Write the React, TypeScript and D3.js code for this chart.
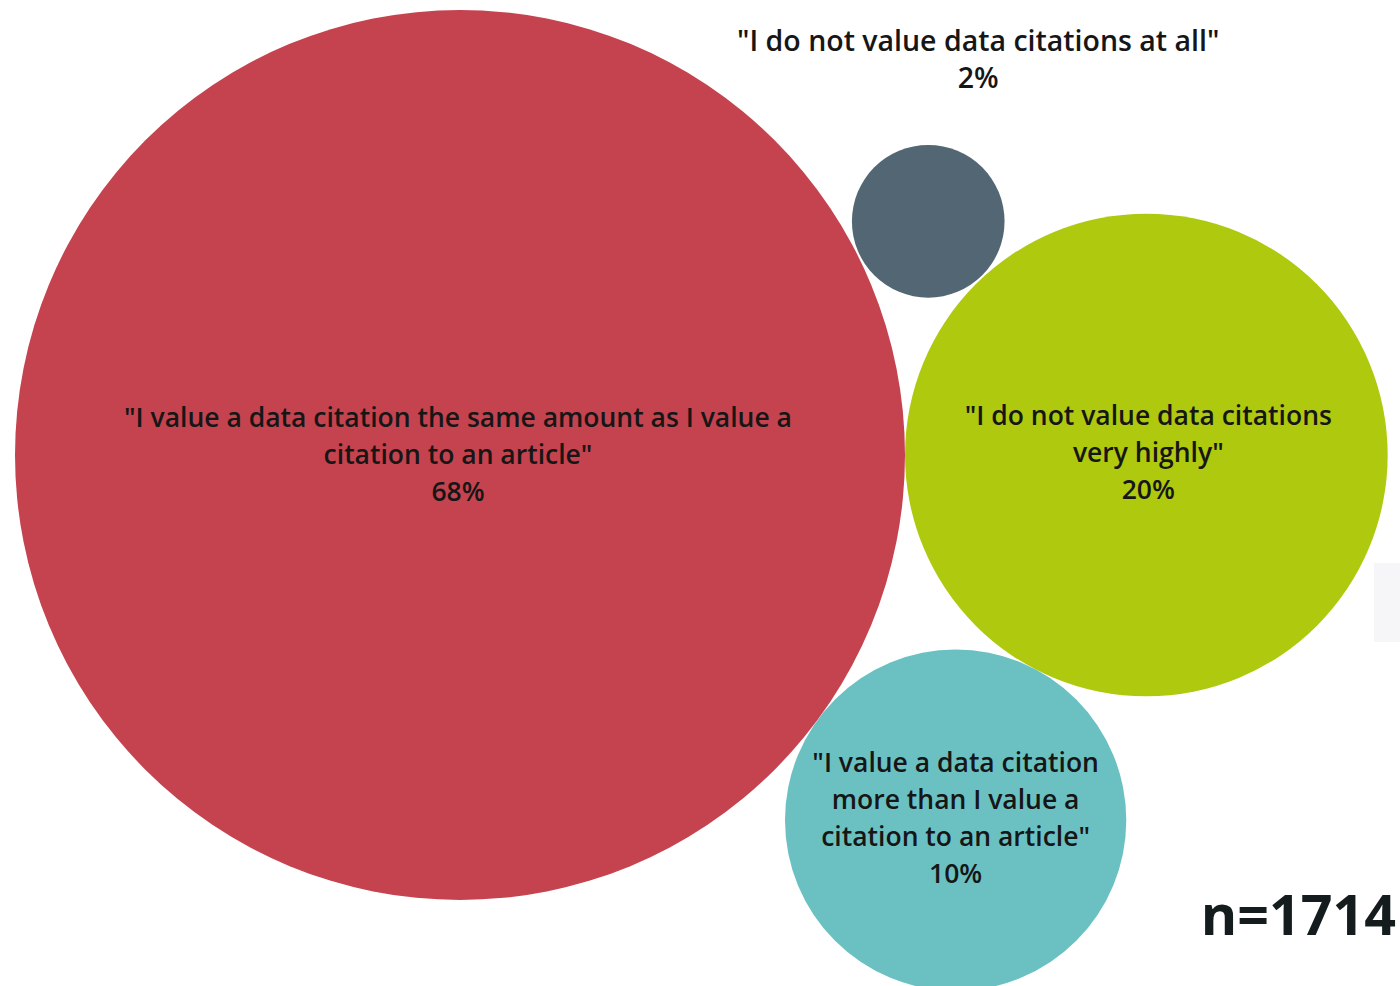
import React from "react";
import * as d3 from "d3";

// ---- data ----
const categories = [
  "same",
  "notHighly",
  "notAtAll",
  "more",
];
const values = [68, 20, 2, 10];
const percentLabels = ["68%", "20%", "2%", "10%"];
const labelLines = [
  ['"I value a data citation the same amount as I value a', 'citation to an article"'],
  ['"I do not value data citations', 'very highly"'],
  ['"I do not value data citations at all"'],
  ['"I value a data citation', "more than I value a", 'citation to an article"'],
];
const colors = ["#C5434F", "#AEC90E", "#536674", "#6BC1C2"];
const sampleLabel = "n=1714";

// ---- layout ----
const W = 1400;
const H = 986;
const anchor = { x: 460, y: 455 }; // centre of the largest bubble
const rScale = d3.scaleSqrt().domain([0, 68]).range([0, 445]);
const FONT = "'Open Sans', Lato, sans-serif";
const LINE = 37;

type C = { x: number; y: number; r: number };

function tangent(a: C, b: C, r: number, side: 1 | -1, gap = 0): C {
  const da = a.r + r + gap;
  const db = b.r + r + gap;
  const dx = b.x - a.x;
  const dy = b.y - a.y;
  const d = Math.hypot(dx, dy);
  const ux = dx / d;
  const uy = dy / d;
  const t = (da * da - db * db + d * d) / (2 * d);
  const h = Math.sqrt(Math.max(0, da * da - t * t));
  return { x: a.x + ux * t - uy * h * side, y: a.y + uy * t + ux * h * side, r };
}

export default function App() {
  const radii = values.map((v) => rScale(v));
  const big: C = { x: anchor.x, y: anchor.y, r: radii[0] };
  const green: C = { x: big.x + big.r + radii[1], y: big.y, r: radii[1] };
  const slate = tangent(big, green, radii[2], -1, 2);
  const teal = tangent(big, green, radii[3], 1);
  const circles = [big, green, slate, teal];

  const labelPos = [
    { x: big.x - 2, y: big.y, size: 26.5, lines: [...labelLines[0], percentLabels[0]] },
    { x: green.x + 2, y: green.y - 2, size: 26.5, lines: [...labelLines[1], percentLabels[1]] },
    { x: slate.x + 50, y: slate.y - 161, size: 28.5, lines: [...labelLines[2], percentLabels[2]] },
    { x: teal.x, y: teal.y - 2, size: 26.5, lines: [...labelLines[3], percentLabels[3]] },
  ];

  return (
    <svg
      width={W}
      height={H}
      viewBox={`0 0 ${W} ${H}`}
      style={{ position: "absolute", left: 0, top: 0, background: "#fff" }}
    >
      <rect x={1374} y={563} width={26} height={79} fill="#F6F6F8" />
      {circles.map((c, i) => (
        <circle key={categories[i]} cx={c.x} cy={c.y} r={c.r} fill={colors[i]} />
      ))}
      {labelPos.map((p, i) => {
        const n = p.lines.length;
        return (
          <text
            key={"l" + i}
            textAnchor="middle"
            fontFamily={FONT}
            fontSize={p.size}
            fontWeight={600}
            fill="#161616"
          >
            {p.lines.map((ln, j) => (
              <tspan key={j} x={p.x} y={p.y + (j - (n - 1) / 2) * LINE + 9}>
                {ln}
              </tspan>
            ))}
          </text>
        );
      })}
      <text
        x={1396}
        y={935}
        textAnchor="end"
        fontFamily="'Open Sans', sans-serif"
        fontWeight={700}
        fontSize={55.5}
        fill="#141C1E"
      >
        {sampleLabel}
      </text>
    </svg>
  );
}
